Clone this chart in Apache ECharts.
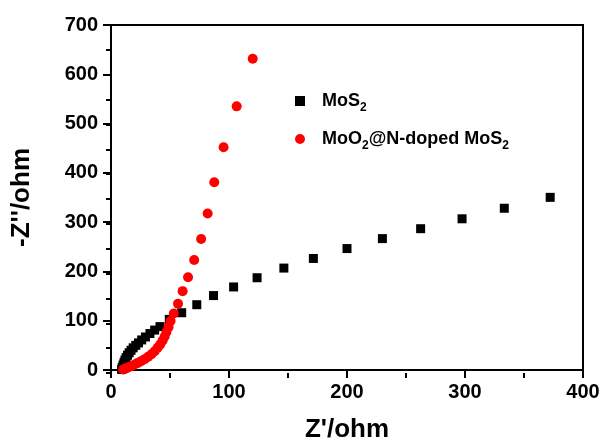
<!DOCTYPE html>
<html>
<head>
<meta charset="utf-8">
<script src="https://cdn.jsdelivr.net/npm/echarts@6/dist/echarts.min.js"></script>
<style>
	html, body { margin: 0; padding: 0; background: #fff; }
	#main { width: 603px; height: 448px; }
</style>
</head>
<body>
<div id="main"></div>
<script>
var mos2X = [9, 9.5, 10.2, 11, 11.8, 12.8, 14, 15.4, 17, 18.8, 21, 23.3, 26, 29.2, 33, 37, 41.5,
	49.4, 59.9, 72.7, 86.9, 103.9, 123.8, 146.5, 171.5, 200, 230, 262.4, 297.5, 333.3, 372.2];
var mos2Y = [1, 5, 10, 15, 20, 25, 30, 35, 40, 45, 50, 55, 61, 67, 74, 81, 88,
	102.7, 116.2, 132.5, 151, 168.5, 187.2, 206.8, 226.3, 246.4, 266.6, 286.7, 306.8, 328.2, 350.3];

var dopedX = [10.3, 11, 12, 13.5, 15.3, 17.5, 20, 22.5, 25.5, 28.5, 31.5, 34.3, 37, 39.5, 41.8, 43.8,
	45.5, 47, 48.8, 50.5, 53.2, 56.8, 60.7, 65.3, 70.5, 76.4, 81.9, 87.5, 95.4, 106.5, 120.1];
var dopedY = [1, 1.5, 2.5, 4, 6, 8, 11, 14, 18, 22, 27, 32, 38, 45, 52, 60,
	68, 77, 87, 99.5, 114.5, 134.5, 160, 188.3, 223.3, 265.8, 317.5, 381, 451.8, 534.9, 631.6];

var seriesNames = ['MoS2', 'MoO2@N-doped MoS2'];
var legendLabels = ['{t|MoS}{s|2}', '{t|MoO}{s|2}{t|@N-doped MoS}{s|2}'];

var xTicks = [0, 100, 200, 300, 400];
var yTicks = [0, 100, 200, 300, 400, 500, 600, 700];

var GRID = { left : 111, right : 20, top : 25, bottom : 75 };

function NyquistChart(divId) {
	var chartOption;
	var myChart = echarts.init(document.getElementById(divId));
	var font = 'Liberation Sans, Arial, sans-serif';

	function pairs(xs, ys) {
		var out = [];
		for (var i = 0; i < xs.length; i++) {
			out.push([xs[i], ys[i]]);
		}
		return out;
	}

	function axis(name, ticks, gap) {
		return {
			type : 'value',
			gridIndex : 0,
			name : name,
			nameLocation : 'middle',
			nameGap : gap,
			nameTextStyle : { fontSize : 26, fontWeight : 'bold', color : '#000', fontFamily : font },
			min : ticks[0],
			max : ticks[ticks.length - 1],
			interval : ticks[1] - ticks[0],
			axisLine : { show : true, lineStyle : { color : '#000', width : 2 } },
			axisTick : { show : true, inside : false, length : 8, lineStyle : { color : '#000', width : 2 } },
			axisLabel : { fontSize : 20, fontWeight : 'bold', color : '#000', fontFamily : font, margin : 12 },
			splitLine : { show : false }
		};
	}

	// half-step ticks, drawn by the axes of a second grid laid over the first
	function minorAxis(ticks) {
		return {
			type : 'value',
			gridIndex : 1,
			min : ticks[0],
			max : ticks[ticks.length - 1],
			interval : (ticks[1] - ticks[0]) / 2,
			axisLine : { show : false },
			axisTick : { show : true, inside : false, length : 5, lineStyle : { color : '#000', width : 2 } },
			axisLabel : { show : false },
			splitLine : { show : false }
		};
	}

	function initOption() {
		var xAxis = axis("Z'/ohm", xTicks, 47);
		var yAxis = axis("-Z''/ohm", yTicks, 76);
		yAxis.axisLabel.margin = 13;

		chartOption = {
			backgroundColor : '#fff',
			animation : false,
			grid : [
				{
					left : GRID.left, right : GRID.right, top : GRID.top, bottom : GRID.bottom,
					show : true, borderColor : '#000', borderWidth : 2
				},
				{ left : GRID.left, right : GRID.right, top : GRID.top, bottom : GRID.bottom }
			],
			legend : {
				orient : 'vertical',
				left : 290,
				top : 87,
				itemWidth : 10,
				itemHeight : 10,
				itemGap : 16,
				data : seriesNames,
				formatter : function(name) {
					return legendLabels[seriesNames.indexOf(name)];
				},
				textStyle : {
					padding : [0, 0, 0, 12],
					rich : {
						t : { fontSize : 18, fontWeight : 'bold', color : '#000', fontFamily : font },
						s : { fontSize : 12, fontWeight : 'bold', color : '#000', fontFamily : font, padding : [14, 0, 0, 0] }
					}
				}
			},
			xAxis : [xAxis, minorAxis(xTicks)],
			yAxis : [yAxis, minorAxis(yTicks)],
			series : [
				{
					name : seriesNames[0],
					type : 'scatter',
					symbol : 'rect',
					symbolSize : 9,
					itemStyle : { color : '#000', opacity : 1 },
					data : pairs(mos2X, mos2Y)
				},
				{
					name : seriesNames[1],
					type : 'scatter',
					symbol : 'circle',
					symbolSize : 10,
					itemStyle : { color : '#ff0000', opacity : 1 },
					data : pairs(dopedX, dopedY)
				}
			]
		};
	}

	this.draw = function() {
		myChart.setOption(chartOption);
	};

	initOption();
}

var chart = new NyquistChart('main');
chart.draw();
</script>
</body>
</html>
